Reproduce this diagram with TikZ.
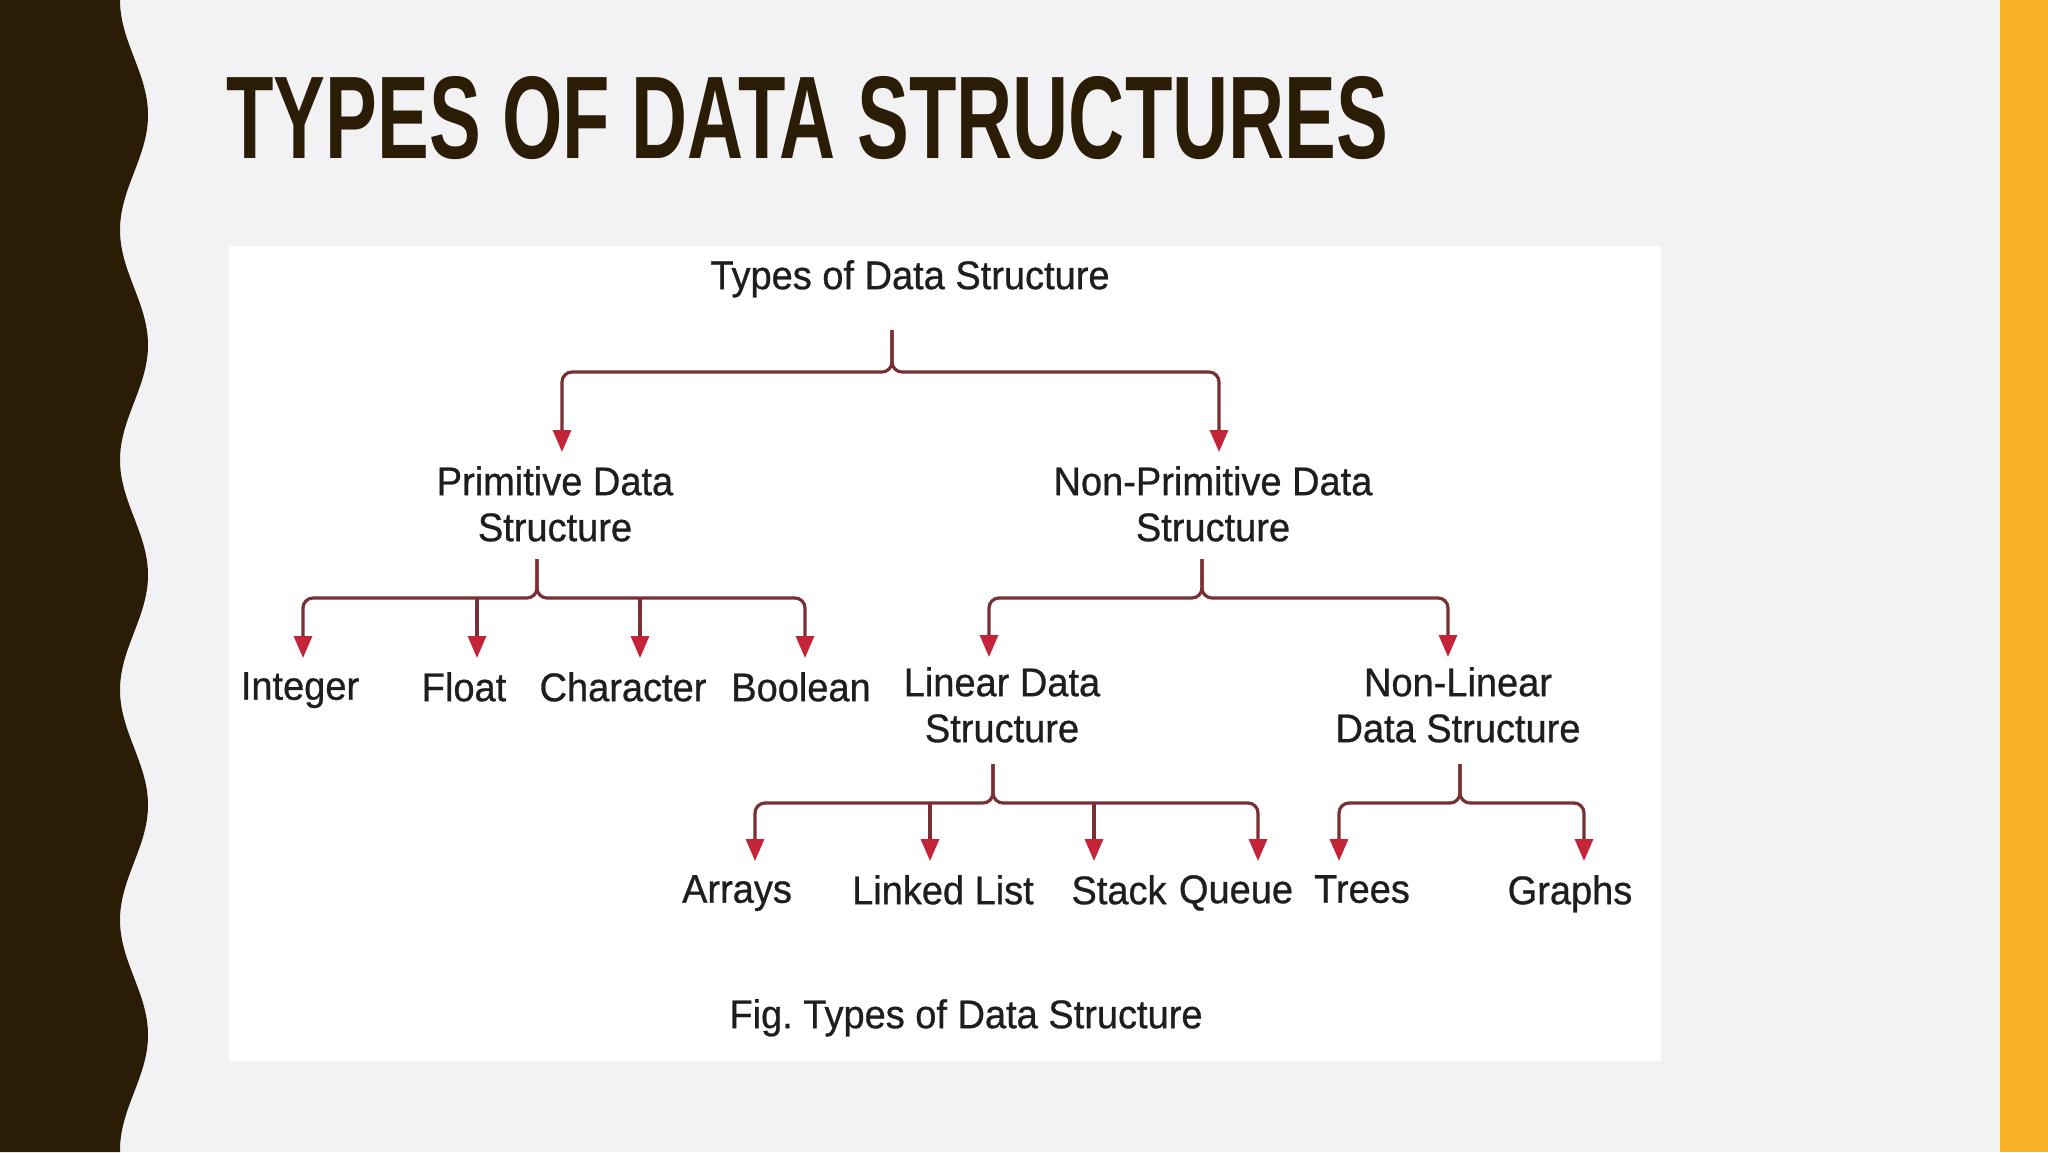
\documentclass[tikz,border=0pt]{standalone}
\usepackage{fontspec}
\setmainfont{Liberation Sans}
\newfontfamily\diagfont[FakeStretch=0.95,FakeBold=0.7]{Liberation Sans}
\newfontfamily\titlefont{Liberation Sans}
\usetikzlibrary{arrows.meta}
\frenchspacing
\definecolor{bgc}{RGB}{242,242,245}
\definecolor{darkband}{RGB}{43,28,5}
\definecolor{orangeband}{RGB}{249,177,38}
\definecolor{linec}{RGB}{120,48,52}
\definecolor{tipc}{RGB}{196,36,56}
\definecolor{txtc}{RGB}{30,30,30}
\begin{document}
\begin{tikzpicture}[x=1pt,y=-1pt,
  lbl/.style={font=\diagfont\fontsize{40}{46}\selectfont, text=txtc, inner sep=0pt, align=center, anchor=north},
  conn/.style={draw=linec, line width=3.2pt, rounded corners=10pt, shorten >=14pt,
    -{Triangle[length=22pt,width=18pt,color=tipc]}}
]
\useasboundingbox (0,0) rectangle (2048,1152);
\fill[bgc] (0,0) rectangle (2048,1152);
\fill[orangeband] (2000,0) rectangle (2048,1152);
\fill[darkband] (0,0) -- plot[domain=0:1152,samples=241,smooth] ({134-14*cos(\x/230*360)},\x) -- (0,1152) -- cycle;

% title
\node[anchor=south west, inner sep=0pt, text=darkband] (title) at (226,160)
  {\resizebox{1162pt}{82pt}{\titlefont\bfseries TYPES OF DATA STRUCTURES}};

% image panel
\fill[white] (229,246) rectangle (1661,1061);

% nodes
\node[lbl] (root) at (910,260) {Types of Data Structure};
\node[lbl] (prim) at (555,466) {Primitive Data\\Structure};
\node[lbl] (nonprim) at (1213,466) {Non-Primitive Data\\Structure};
\node[lbl] (int) at (300,672) {Integer};
\node[lbl] (flt) at (464,672) {Float};
\node[lbl] (chr) at (623,672) {Character};
\node[lbl] (bool) at (801,672) {Boolean};
\node[lbl] (lin) at (1002,667) {Linear Data\\Structure};
\node[lbl] (nonlin) at (1458,667) {Non-Linear\\Data Structure};
\node[lbl] (arr) at (737,875) {Arrays};
\node[lbl] (ll) at (943,875) {Linked List};
\node[lbl] (stk) at (1119,875) {Stack};
\node[lbl] (que) at (1236,875) {Queue};
\node[lbl] (trees) at (1362,875) {Trees};
\node[lbl] (graphs) at (1570,875) {Graphs};
\node[lbl] (cap) at (966,999) {Fig.\ Types of Data Structure};

% junction coordinates
\coordinate (s0) at (892,330); \coordinate (j0) at (892,372);
\coordinate (s1) at (537,559); \coordinate (j1) at (537,598);
\coordinate (s2) at (1202,559); \coordinate (j2) at (1202,598);
\coordinate (s3) at (993,764); \coordinate (j3) at (993,803);
\coordinate (s4) at (1460,764); \coordinate (j4) at (1460,803);

% root level
\draw[conn] (s0) -- (j0) -| ([xshift=7pt]prim.north);
\draw[conn] (s0) -- (j0) -| ([xshift=6pt]nonprim.north);

% primitive
\draw[conn] (s1) -- (j1) -| ([xshift=3pt]int.north);
\draw[conn] (s1) -- (j1) -| ([xshift=4pt]bool.north);
\draw[conn] ([xshift=13pt]flt.north |- j1) -- ([xshift=13pt]flt.north);
\draw[conn] ([xshift=17pt]chr.north |- j1) -- ([xshift=17pt]chr.north);

% non-primitive
\draw[conn, shorten >=10pt] (s2) -- (j2) -| ([xshift=-13pt]lin.north);
\draw[conn, shorten >=10pt] (s2) -- (j2) -| ([xshift=-10pt]nonlin.north);

% linear
\draw[conn] (s3) -- (j3) -| ([xshift=18pt]arr.north);
\draw[conn] (s3) -- (j3) -| ([xshift=22pt]que.north);
\draw[conn] ([xshift=-13pt]ll.north |- j3) -- ([xshift=-13pt]ll.north);
\draw[conn] ([xshift=-25pt]stk.north |- j3) -- ([xshift=-25pt]stk.north);

% non-linear
\draw[conn] (s4) -- (j4) -| ([xshift=-23pt]trees.north);
\draw[conn] (s4) -- (j4) -| ([xshift=14pt]graphs.north);
\end{tikzpicture}
\end{document}
